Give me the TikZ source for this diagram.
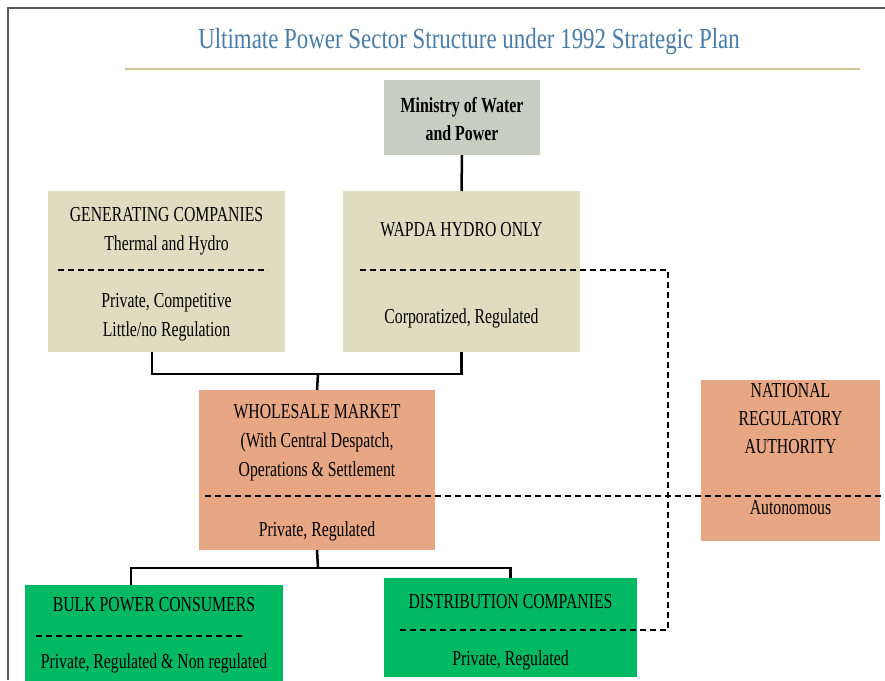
\documentclass[tikz,border=0pt]{standalone}
\usepackage{fontspec}
\setmainfont{Liberation Serif}[FakeStretch=0.74]
\newfontfamily\headfont{Liberation Serif}[FakeStretch=0.79]

\definecolor{titleblue}{HTML}{4A7CA8}
\definecolor{rulekhaki}{HTML}{CBC491}
\definecolor{mingrey}{HTML}{C9CEC3}
\definecolor{genkhaki}{HTML}{DFDCC0}
\definecolor{marketsalmon}{HTML}{E7A785}
\definecolor{consgreen}{HTML}{00B962}

\tikzset{
  panel/.style={inner sep=0pt, outer sep=0pt},
  lbl/.style={inner sep=0pt, align=center, font=\fontsize{21.3}{29}\selectfont},
  link/.style={line width=2.5pt},
  split/.style={line width=1.8pt, dash pattern=on 6pt off 4pt},
}

\begin{document}
\begin{tikzpicture}[x=1pt,y=-1pt]
\useasboundingbox (0,0) rectangle (885,680);
\fill[white] (0,0) rectangle (885,680);

% slide frame and heading
\draw[line width=1.6pt, black!65] (8,680) -- (8,8) -- (885,8);
\node[lbl, font=\headfont\fontsize{29}{32}\selectfont, text=titleblue] (title) at (469,42)
  {Ultimate Power Sector Structure under 1992 Strategic Plan};
\draw[line width=2pt, rulekhaki] (125,69) -- (860,69);

% boxes
\node[panel, fill=mingrey, minimum width=156, minimum height=75] (min) at (462,117.5) {};
\node[panel, fill=genkhaki, minimum width=237, minimum height=161] (gen) at (166.5,271.5) {};
\node[panel, fill=genkhaki, minimum width=237, minimum height=161] (wapda) at (461.5,271.5) {};
\node[panel, fill=marketsalmon, minimum width=236, minimum height=160] (whole) at (317,470) {};
\node[panel, fill=marketsalmon, minimum width=179, minimum height=161] (nra) at (790.5,460.5) {};
\node[panel, fill=consgreen, minimum width=258, minimum height=98] (bulk) at (154,634) {};
\node[panel, fill=consgreen, minimum width=253, minimum height=99] (dist) at (510.5,627.5) {};

% texts
\node[lbl, font=\fontsize{21.5}{28}\selectfont\bfseries] (mintxt) at (462,119) {Ministry of Water\\and Power};
\node[lbl] (gentop) at (166.5,231) {GENERATING COMPANIES\\Thermal and Hydro};
\node[lbl] (genbot) at (166.5,317) {Private, Competitive\\Little/no Regulation};
\node[lbl] (wapdatop) at (461.5,230) {WAPDA HYDRO ONLY};
\node[lbl] (wapdabot) at (461.5,318) {Corporatized, Regulated};
\node[lbl] (wholetop) at (317,443) {WHOLESALE MARKET\\(With Central Despatch,\\Operations \& Settlement};
\node[lbl] (wholebot) at (317,531) {Private, Regulated};
\node[lbl, font=\fontsize{21.3}{28}\selectfont] (nratop) at (790.5,419) {NATIONAL\\REGULATORY\\AUTHORITY};
\node[lbl] (nrabot) at (790.5,508) {Autonomous};
\node[lbl] (bulktop) at (154,605) {BULK POWER CONSUMERS};
\node[lbl] (bulkbot) at (154,663) {Private, Regulated \& Non regulated};
\node[lbl] (disttop) at (510.5,602) {DISTRIBUTION COMPANIES};
\node[lbl] (distbot) at (510.5,660) {Private, Regulated};

% dividers inside the boxes
\draw[split] (58,270) -- (268,270);
\draw[split] (36,636) -- (245,636);
\draw[split] (205,496) -- (885,496);

% WAPDA link down to the distribution companies
\coordinate (wapdadiv) at (360,270);
\coordinate (distdiv) at (397,630);
\draw[split] (wapdadiv) -- (668,270) -- (668,630) -- (distdiv);

% solid connectors
\coordinate (genbus) at (318,374);
\coordinate (lowbus) at (318,568);
\draw[link] (min.south) -- (wapda.north);
\draw[link] ([xshift=-14.5pt]gen.south) |- (genbus) -| (wapda.south);
\draw[link] (genbus) -- (whole.north);
\draw[link] (whole.south) -- (lowbus);
\draw[link] ([xshift=-23pt]bulk.north) |- (lowbus) -| (dist.north);
\end{tikzpicture}
\end{document}
